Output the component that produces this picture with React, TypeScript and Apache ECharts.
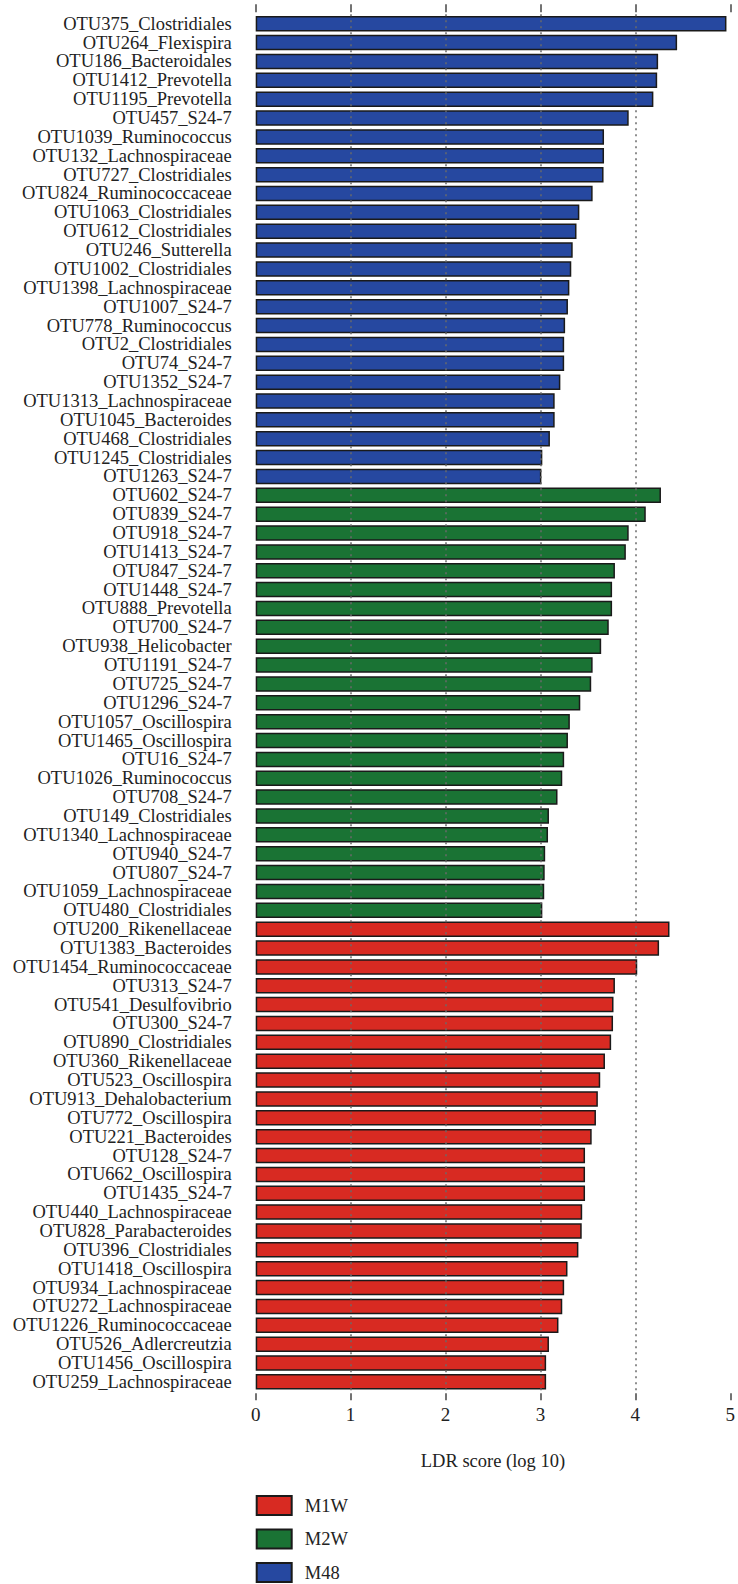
import React, { useEffect, useRef } from "react";
import * as echarts from "echarts";

const m48Names = ["OTU375_Clostridiales","OTU264_Flexispira","OTU186_Bacteroidales","OTU1412_Prevotella","OTU1195_Prevotella","OTU457_S24-7","OTU1039_Ruminococcus","OTU132_Lachnospiraceae","OTU727_Clostridiales","OTU824_Ruminococcaceae","OTU1063_Clostridiales","OTU612_Clostridiales","OTU246_Sutterella","OTU1002_Clostridiales","OTU1398_Lachnospiraceae","OTU1007_S24-7","OTU778_Ruminococcus","OTU2_Clostridiales","OTU74_S24-7","OTU1352_S24-7","OTU1313_Lachnospiraceae","OTU1045_Bacteroides","OTU468_Clostridiales","OTU1245_Clostridiales","OTU1263_S24-7"];
const m48Values = [4.96,4.44,4.24,4.23,4.19,3.93,3.67,3.67,3.665,3.55,3.41,3.38,3.34,3.325,3.305,3.29,3.26,3.25,3.25,3.21,3.15,3.15,3.1,3.02,3.01];

const m2wNames = ["OTU602_S24-7","OTU839_S24-7","OTU918_S24-7","OTU1413_S24-7","OTU847_S24-7","OTU1448_S24-7","OTU888_Prevotella","OTU700_S24-7","OTU938_Helicobacter","OTU1191_S24-7","OTU725_S24-7","OTU1296_S24-7","OTU1057_Oscillospira","OTU1465_Oscillospira","OTU16_S24-7","OTU1026_Ruminococcus","OTU708_S24-7","OTU149_Clostridiales","OTU1340_Lachnospiraceae","OTU940_S24-7","OTU807_S24-7","OTU1059_Lachnospiraceae","OTU480_Clostridiales"];
const m2wValues = [4.27,4.11,3.93,3.9,3.785,3.755,3.755,3.72,3.64,3.55,3.535,3.42,3.31,3.29,3.25,3.23,3.18,3.09,3.08,3.05,3.045,3.04,3.02];

const m1wNames = ["OTU200_Rikenellaceae","OTU1383_Bacteroides","OTU1454_Ruminococcaceae","OTU313_S24-7","OTU541_Desulfovibrio","OTU300_S24-7","OTU890_Clostridiales","OTU360_Rikenellaceae","OTU523_Oscillospira","OTU913_Dehalobacterium","OTU772_Oscillospira","OTU221_Bacteroides","OTU128_S24-7","OTU662_Oscillospira","OTU1435_S24-7","OTU440_Lachnospiraceae","OTU828_Parabacteroides","OTU396_Clostridiales","OTU1418_Oscillospira","OTU934_Lachnospiraceae","OTU272_Lachnospiraceae","OTU1226_Ruminococcaceae","OTU526_Adlercreutzia","OTU1456_Oscillospira","OTU259_Lachnospiraceae"];
const m1wValues = [4.36,4.25,4.02,3.785,3.77,3.765,3.745,3.68,3.63,3.605,3.585,3.54,3.47,3.47,3.47,3.44,3.435,3.4,3.285,3.25,3.23,3.19,3.09,3.06,3.06];

const groupNames = ["M1W", "M2W", "M48"];
const groupColors = ["#d82a22", "#1a7334", "#2648a0"];
const xTicks = [0, 1, 2, 3, 4, 5];
const gridLines = [1, 2, 3, 4];

export default function App() {
  const ref = useRef<HTMLDivElement>(null);
  useEffect(() => {
    if (!ref.current) return;
    const chart = echarts.init(ref.current, null, { renderer: "svg" });
    const categories = [...m48Names, ...m2wNames, ...m1wNames];
    const n1 = m48Names.length, n2 = m2wNames.length;
    const fill = (vals: number[], start: number) =>
      categories.map((_, i) => (i >= start && i < start + vals.length ? vals[i - start] : "-"));
    const seriesData = [fill(m1wValues, n1 + n2), fill(m2wValues, n1), fill(m48Values, 0)];
    const font = "'Liberation Serif', 'Times New Roman', serif";
    const series: any[] = groupNames.map((name, k) => ({
      name,
      type: "bar",
      data: seriesData[k],
      barWidth: 15.5,
      barGap: "-100%",
      itemStyle: { color: groupColors[k], borderColor: "#1a1a1a", borderWidth: 1.5 },
      markLine: k === 0 ? {
        silent: true,
        symbol: "none",
        label: { show: false },
        lineStyle: { type: [2, 4], color: "#6a6a6a", width: 1.5 },
        data: gridLines.map((v) => ({ xAxis: v })),
        z: 10,
      } : undefined,
    }));
    const legends = groupNames.map((name, k) => ({
      data: [name], orient: "vertical", left: 255.7, top: 1495 + k * 33.5,
      padding: 0,
      itemWidth: 35, itemHeight: 19,
      icon: "rect",
      textStyle: { fontSize: 18.5, color: "#222", fontFamily: font, padding: [0, 0, 0, 8] },
    }));
    chart.setOption({
      animation: false,
      textStyle: { fontFamily: font },
      grid: { left: 255.7, right: 3, top: 14.3, height: 1377 },
      xAxis: [
        {
          type: "value", position: "bottom", min: 0, max: 5, interval: 1, offset: 2,
          axisLine: { show: false },
          axisTick: { show: true, length: 7, lineStyle: { color: "#444", width: 1.5 } },
          splitLine: { show: false },
          axisLabel: { fontSize: 19, color: "#222", margin: 12, fontFamily: font,
            formatter: (v: number) => (xTicks.includes(v) ? String(v) : "") },
          name: "LDR score (log 10)", nameLocation: "middle", nameGap: 58,
          nameTextStyle: { fontSize: 18.5, color: "#222", fontFamily: font },
        },
        {
          type: "value", position: "top", min: 0, max: 5, interval: 1, offset: 2,
          axisLine: { show: false },
          axisTick: { show: true, length: 8, lineStyle: { color: "#444", width: 1.5 } },
          splitLine: { show: false },
          axisLabel: { show: false },
        },
      ],
      yAxis: {
        type: "category", data: categories, inverse: true,
        axisLine: { show: false }, axisTick: { show: false },
        axisLabel: { fontSize: 18.5, color: "#222", margin: 24, fontFamily: font, interval: 0 },
      },
      legend: legends,
      series,
    });
    return () => chart.dispose();
  }, []);
  return <div ref={ref} style={{ position: "absolute", left: 0, top: 0, width: 738, height: 1584 }} />;
}
